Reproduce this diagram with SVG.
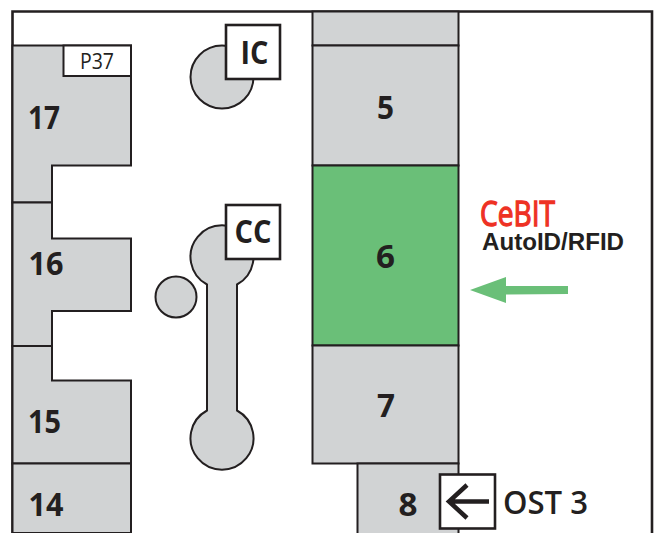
<svg xmlns="http://www.w3.org/2000/svg" width="654" height="533" viewBox="0 0 654 533">
<style>
.h{fill:#d1d3d4;stroke:#231f20;stroke-width:2}
.l{fill:none;stroke:#231f20;stroke-width:2}
.b{fill:#fff;stroke:#231f20;stroke-width:2.6}
text{font-family:"Open Sans","Noto Sans",sans-serif;fill:#231f20}
.n{font-size:33px;font-weight:700;text-anchor:middle}
</style>
<rect width="654" height="533" fill="#fff"/>
<path id="frame" class="l" d="M12.5 533V11.5H652V533" style="stroke-width:2.6"/>
<g id="hall-17"><path class="h" d="M12.5 45.500H131V165.500H52V202.500H12.500Z"/><rect x="63.500" y="45.500" width="67.500" height="30.500" fill="#fff" stroke="#231f20" stroke-width="2"/><text x="97" y="68.500" font-size="21" text-anchor="middle" textLength="34" lengthAdjust="spacingAndGlyphs">P37</text><text class="n" x="44" y="128.500" textLength="32" lengthAdjust="spacingAndGlyphs">17</text></g>
<g id="hall-16"><path class="h" d="M12.500 202.500H52V238.500H131V311H52V346H12.500Z"/><text class="n" x="46" y="275" textLength="35" lengthAdjust="spacingAndGlyphs">16</text></g>
<g id="hall-15"><path class="h" d="M12.500 346H52V380.500H131V463.500H12.500Z"/><text class="n" x="44.500" y="433" textLength="33" lengthAdjust="spacingAndGlyphs">15</text></g>
<g id="hall-14"><path class="h" d="M12.500 463.500H131V533H12.500Z"/><text class="n" x="46" y="516" textLength="35" lengthAdjust="spacingAndGlyphs">14</text></g>
<g id="ic"><circle class="h" cx="222" cy="77" r="31.500"/><rect class="b" x="226" y="25" width="54" height="54"/><text x="254.500" y="64" font-size="32" font-weight="700" text-anchor="middle" textLength="28" lengthAdjust="spacingAndGlyphs">IC</text></g>
<g id="cc"><path class="h" d="M207 284.500A31.500 31.500 0 1 1 237 284.500V410.500A31.500 31.500 0 1 1 207 410.500Z"/><rect class="b" x="226" y="205" width="54" height="54"/><text x="253" y="243" font-size="32" font-weight="700" text-anchor="middle" textLength="37" lengthAdjust="spacingAndGlyphs">CC</text></g>
<g id="small-circle"><circle class="h" cx="176" cy="297" r="20.500"/></g>
<g id="hall-top"><rect class="h" x="312.500" y="11.500" width="146" height="34"/></g>
<g id="hall-5"><rect class="h" x="312.500" y="45.500" width="146" height="120"/><text class="n" x="385.500" y="119" textLength="17" lengthAdjust="spacingAndGlyphs">5</text></g>
<g id="hall-6"><rect x="312.500" y="165.500" width="146" height="180" fill="#6abf78" stroke="#231f20" stroke-width="2"/><text class="n" x="385.500" y="268" textLength="19" lengthAdjust="spacingAndGlyphs">6</text></g>
<g id="hall-7"><rect class="h" x="312.500" y="345.500" width="146" height="118"/><text class="n" x="386" y="417" textLength="18" lengthAdjust="spacingAndGlyphs">7</text></g>
<g id="hall-8"><rect class="h" x="357.500" y="463.500" width="101" height="71"/><text class="n" x="408" y="516" textLength="19" lengthAdjust="spacingAndGlyphs">8</text></g>
<g id="cebit"><text x="480" y="226" font-size="34" font-weight="400" textLength="75" lengthAdjust="spacingAndGlyphs" style="fill:#ee3124;stroke:#ee3124;stroke-width:1.300">CeBIT</text><text x="482" y="250" font-size="23" font-weight="700" textLength="142" lengthAdjust="spacingAndGlyphs" style="font-family:'Liberation Sans',Arial,sans-serif">AutoID/RFID</text></g>
<g id="green-arrow"><path d="M470 290L506 277V286H568V294L506 294.500V303Z" fill="#6abf78"/></g>
<g id="ost3"><rect class="b" x="440" y="474.500" width="55" height="54"/><path d="M489 501.500H450M467 485L449 501.500L467 518" fill="none" stroke="#231f20" stroke-width="4.500"/><text x="503" y="514" font-size="33" font-weight="600" textLength="85" lengthAdjust="spacingAndGlyphs">OST 3</text></g>
</svg>
